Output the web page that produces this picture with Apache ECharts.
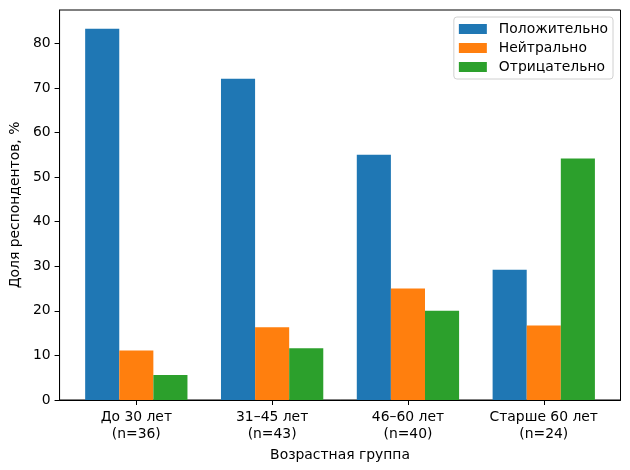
<!DOCTYPE html>
<html><head><meta charset="utf-8">
<script src="https://cdn.jsdelivr.net/npm/echarts@6/dist/echarts.min.js"></script>
<style>html,body{margin:0;padding:0;background:#fff}#c{width:630px;height:470px}</style>
</head><body><div id="c"></div>
<script>
const categories = ['До 30 лет\n(n=36)', '31–45 лет\n(n=43)', '46–60 лет\n(n=40)', 'Старше 60 лет\n(n=24)'];
const seriesNames = ['Положительно', 'Нейтрально', 'Отрицательно'];
const positive = [83.3, 72.1, 55.0, 29.2];
const neutral = [11.1, 16.3, 25.0, 16.7];
const negative = [5.6, 11.6, 20.0, 54.2];
const colors = ['#1f77b4', '#ff7f0e', '#2ca02c'];
const catPositions = [0, 1, 2, 3];
const yTicks = [0, 10, 20, 30, 40, 50, 60, 70, 80];

const font = 'DejaVu Sans';
const fs = 13.9;
const chart = echarts.init(document.getElementById('c'), null, {renderer: 'canvas'});
const mk = (name, vals, color) => ({
  name: name, type: 'bar', barWidth: 34.1, barGap: '0%',
  itemStyle: {color: color, borderWidth: 0},
  data: vals.map((v, i) => [catPositions[i], v]),
  animation: false
});
chart.setOption({
  animation: false,
  textStyle: {fontFamily: font},
  grid: {left: 57.5, top: 10, right: 9.5, bottom: 70, show: true, borderColor: '#000', borderWidth: 1, containLabel: false},
  legend: {
    orient: 'vertical', right: 17, top: 17,
    itemWidth: 28, itemHeight: 10, itemGap: 5,
    padding: [5, 5, 5, 5],
    borderColor: '#d0d0d0', borderWidth: 1, borderRadius: 3,
    backgroundColor: '#fff',
    textStyle: {fontFamily: font, fontSize: fs, color: '#000', padding: [0, 0, 0, 7]},
    icon: 'rect',
    data: seriesNames
  },
  xAxis: {
    type: 'value', min: -0.565, max: 3.565,
    name: 'Возрастная группа', nameLocation: 'middle', nameGap: 46,
    nameTextStyle: {fontFamily: font, fontSize: fs, color: '#000'},
    splitLine: {show: false},
    axisLine: {show: true, onZero: false, lineStyle: {color: '#000'}},
    axisTick: {show: true, length: 5, lineStyle: {color: '#000'}, customValues: catPositions},
    axisLabel: {
      color: '#000', fontSize: fs, fontFamily: font, margin: 9, lineHeight: 17,
      customValues: catPositions,
      formatter: v => categories[Math.round(v)]
    }
  },
  yAxis: {
    type: 'value', min: 0, max: 87.5,
    name: 'Доля респондентов, %', nameLocation: 'middle', nameGap: 35,
    nameTextStyle: {fontFamily: font, fontSize: fs, color: '#000'},
    splitLine: {show: false},
    axisLine: {show: true, onZero: false, lineStyle: {color: '#000'}},
    axisTick: {show: true, length: 5, lineStyle: {color: '#000'}, customValues: yTicks},
    axisLabel: {color: '#000', fontSize: fs, fontFamily: font, margin: 9, customValues: yTicks}
  },
  series: [
    mk(seriesNames[0], positive, colors[0]),
    mk(seriesNames[1], neutral, colors[1]),
    mk(seriesNames[2], negative, colors[2])
  ]
});
</script></body></html>
